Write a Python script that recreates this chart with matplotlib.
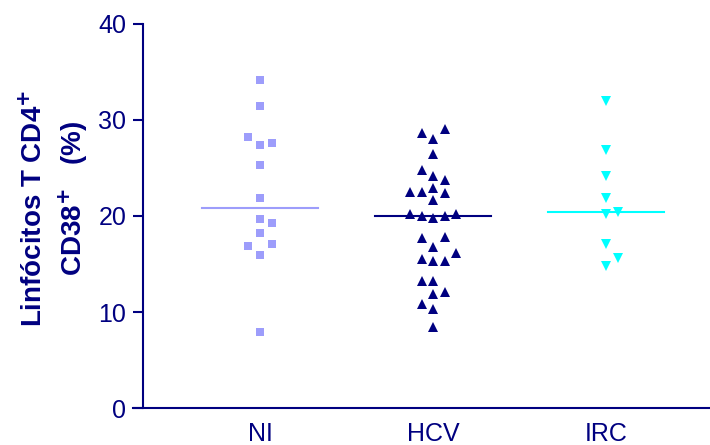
import numpy as np
import matplotlib.pyplot as plt

plt.rcParams['font.family'] = ['Liberation Sans', 'DejaVu Sans']

groups = ['NI', 'HCV', 'IRC']

# valores (%) y columna de cada punto dentro del grupo
ni_vals = [34.2, 31.5, 28.2, 27.4, 27.6, 25.3, 21.9, 19.7, 19.3, 18.2, 16.9, 17.1, 15.9, 7.9]
ni_slot = [0, 0, -1, 0, 1, 0, 0, 0, 1, 0, -1, 1, 0, 0]

hcv_vals = [29.1, 28.6, 28.0, 26.5, 24.8, 24.2, 23.75, 22.5, 22.5, 22.9, 22.4, 21.7,
            20.2, 20.0, 19.8, 20.0, 20.2, 17.7, 17.8, 16.8, 16.1, 15.5, 15.3, 15.35,
            13.2, 13.2, 11.9, 12.1, 10.8, 10.3, 8.4]
hcv_slot = [1, -1, 0, 0, -1, 0, 1, -2, -1, 0, 1, 0,
            -2, -1, 0, 1, 2, -1, 1, 0, 2, -1, 0, 1,
            -1, 0, 0, 1, -1, 0, 0]

irc_vals = [32.0, 26.9, 24.2, 21.9, 20.2, 20.4, 17.1, 15.6, 14.8]
irc_slot = [0, 0, 0, 0, 0, 1, 0, 1, 0]

navy = '#000080'
styles = [('s', '#9d9dfb', 6.2), ('^', navy, 6.8), ('v', '#00ffff', 6.5)]
step = 0.0665

fig = plt.figure(figsize=(7.1, 4.45), dpi=100)
ax = fig.add_axes([143 / 710, 37 / 445, 567 / 710, 384 / 445])

data = [(ni_vals, ni_slot), (hcv_vals, hcv_slot), (irc_vals, irc_slot)]
for i, ((vals, slots), (mk, col, ms)) in enumerate(zip(data, styles)):
    x = i + 1 + np.array(slots) * step
    ax.plot(x, vals, linestyle='none', marker=mk, color=col, markersize=ms,
            markeredgewidth=0, zorder=3)
    med = np.median(vals)
    ax.plot([i + 1 - 0.335, i + 1 + 0.335], [med, med], color=col, lw=1.5, zorder=2)

ax.set_xlim(0.324, 3.60)
ax.set_ylim(0, 40)
ax.set_yticks([0, 10, 20, 30, 40])
ax.set_xticks([1, 2, 3])
ax.set_xticklabels(groups)

for s in ['top', 'right']:
    ax.spines[s].set_visible(False)
for s in ['left', 'bottom']:
    ax.spines[s].set_color(navy)
    ax.spines[s].set_linewidth(1.5)
ax.spines['bottom'].set_bounds(0.324 - 0.058, 3.60)
ax.spines['bottom'].set_clip_on(False)

ax.tick_params(axis='y', colors=navy, labelsize=18, length=7, width=1.5, pad=5)
ax.tick_params(axis='x', colors=navy, labelsize=18, length=0, pad=10)

fig.text(34 / 710, 1 - 208 / 445, r'Linfócitos T CD4$^{\mathbf{+}}$', rotation=90,
         ha='center', va='center', color=navy, fontsize=20, fontweight='bold')
fig.text(73 / 710, 1 - 198 / 445, r'CD38$^{\mathbf{+}}$   (%)', rotation=90,
         ha='center', va='center', color=navy, fontsize=20, fontweight='bold')

fig.savefig('out.png', dpi=100)
